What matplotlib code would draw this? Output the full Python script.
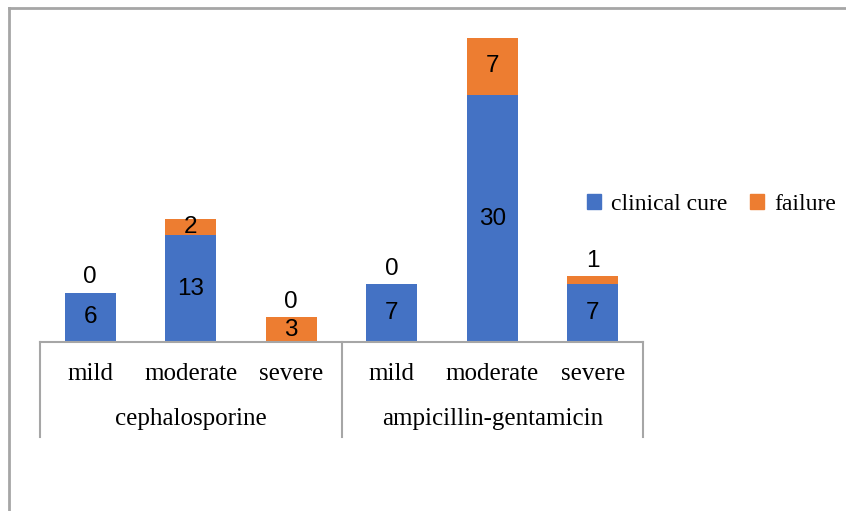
import matplotlib
matplotlib.use("Agg")
import matplotlib.pyplot as plt
from matplotlib.lines import Line2D
from matplotlib.patches import Patch
import matplotlib.transforms as mtransforms

# Data
groups = ["cephalosporine", "ampicillin-gentamicin"]
severity = ["mild", "moderate", "severe"]
clinical_cure = [6, 13, 0, 7, 30, 7]
failure = [0, 2, 3, 0, 7, 1]
series_names = ["clinical cure", "failure"]

BLUE = "#4472C4"
ORANGE = "#ED7D31"
GRID = "#A6A6A6"
SERIF = "Liberation Serif"
SANS = "Liberation Sans"

W, H = 846, 511
fig = plt.figure(figsize=(W / 100, H / 100), dpi=100)

# outer chart frame
fig.add_artist(Line2D([9 / W, 9 / W], [0, 1 - 8 / H], color=GRID, lw=2.0))
fig.add_artist(Line2D([9 / W, 1], [1 - 8 / H, 1 - 8 / H], color=GRID, lw=2.0))

left, right = 40 / W, 643 / W
bottom, top = (H - 342) / H, (H - 13) / H
ax = fig.add_axes([left, bottom, right - left, top - bottom])

n = len(clinical_cure)
x = list(range(n))
width = 0.51
ax.bar(x, clinical_cure, width, color=BLUE, zorder=2)
ax.bar(x, failure, width, bottom=clinical_cure, color=ORANGE, zorder=2)

ax.set_xlim(-0.5, n - 0.5)
ax.set_ylim(0, 40)
for s in ax.spines.values():
    s.set_visible(False)
ax.set_xticks([])
ax.set_yticks([])

# value labels
lab_kw = dict(fontfamily=SANS, fontsize=17.5, color="black", ha="center")
for i in range(n):
    c, f = clinical_cure[i], failure[i]
    tot = c + f
    for v, base in ((c, 0), (f, c)):
        if v <= 1:
            ax.annotate(str(v), (i, tot), xytext=(0, 3), textcoords="offset points",
                        va="bottom", **lab_kw)
        else:
            ax.text(i, base + v / 2, str(v), va="center", **lab_kw)

# multi-level category axis
trans = mtransforms.blended_transform_factory(ax.transData, ax.transAxes)
ax_h_px = 342 - 13
ax.plot([-0.5, n - 0.5], [0, 0], transform=trans, color=GRID, lw=1.5,
        clip_on=False, zorder=3)
for xb in (-0.5, 2.5, 5.5):
    ax.plot([xb, xb], [0, -95 / ax_h_px], transform=trans, color=GRID, lw=1.5,
            clip_on=False)
for i in range(n):
    ax.text(i, -32 / ax_h_px, severity[i % 3], transform=trans, ha="center",
            va="center", fontfamily=SERIF, fontsize=18)
for g, name in enumerate(groups):
    ax.text(g * 3 + 1, -77 / ax_h_px, name, transform=trans, ha="center",
            va="center", fontfamily=SERIF, fontsize=18)

# legend
handles = [Patch(color=BLUE), Patch(color=ORANGE)]
fig.legend(handles, series_names, loc="center left",
           bbox_to_anchor=(587 / W, 1 - 204 / H), ncol=2, frameon=False,
           prop={"family": SERIF, "size": 17}, handlelength=0.58,
           handleheight=0.58, handletextpad=0.45, columnspacing=0.95,
           borderaxespad=0, borderpad=0)

fig.savefig("out.png", dpi=100)
